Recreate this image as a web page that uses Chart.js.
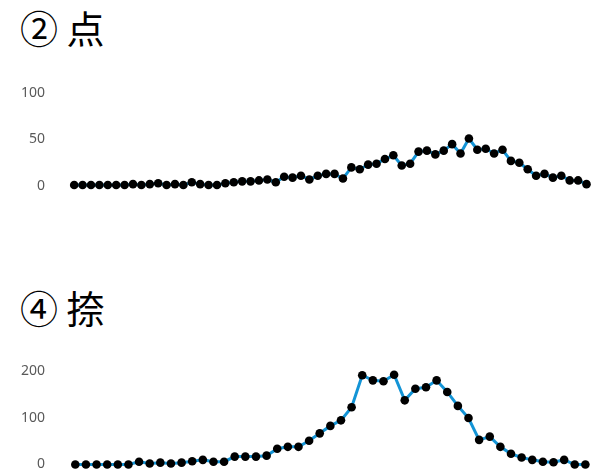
<!DOCTYPE html>
<html>
<head>
<meta charset="utf-8">
<script src="https://cdn.jsdelivr.net/npm/chart.js@4/dist/chart.umd.min.js"></script>
<style>
  body { margin: 0; background: #fff; width: 595px; height: 475px; position: relative; overflow: hidden; }
  .title { position: absolute; left: 20px; font-family: "Noto Sans CJK JP", sans-serif; font-size: 38px; color: #000; line-height: 1; white-space: pre; }
  canvas { position: absolute; left: 0; }
</style>
</head>
<body>
<div class="title" style="top: 8px;">② 点</div>
<canvas id="chart1" width="595" height="112" style="top: 84px;"></canvas>
<div class="title" style="top: 288px;">④ 捺</div>
<canvas id="chart2" width="595" height="112" style="top: 362px;"></canvas>
<script>
// ② 点
const tenValues = [1, 1, 1, 1, 1, 1, 1, 2, 1, 2, 3, 1, 2, 1, 4, 2, 1, 1, 3, 4,
  5, 5, 6, 7, 4, 10, 9, 11, 7, 11, 13, 13, 8, 20, 18, 23, 24, 29, 33, 22,
  24, 37, 38, 34, 38, 45, 35, 51, 39, 40, 35, 39, 27, 25, 18, 11, 13, 9, 11, 6,
  6, 2];
const tenLabels = tenValues.map((v, i) => String(i + 1));
const tenTicks = [0, 50, 100];

// ④ 捺
const haraiValues = [0, 0, 0, 0, 0, 0, 6, 2, 4, 2, 4, 7, 10, 6, 6, 17, 17, 17, 19, 34,
  38, 38, 51, 67, 83, 95, 123, 192, 181, 179, 193, 138, 163, 166, 181, 156, 126, 100, 53, 60,
  38, 23, 15, 10, 6, 5, 10, 0, 0];
const haraiLabels = haraiValues.map((v, i) => String(i + 1));
const haraiTicks = [0, 100, 200];

function buildChart(id, labels, values, ticks, padTop, padBottom) {
  const ctx = document.getElementById(id).getContext("2d");
  return new Chart(ctx, {
    type: "line",
    data: {
      labels: labels,
      datasets: [{
        data: values,
        borderColor: "#1394d6",
        borderWidth: 3,
        pointRadius: 4.3,
        pointBackgroundColor: "#000",
        pointBorderColor: "#000",
        pointBorderWidth: 0,
        tension: 0,
        clip: false
      }]
    },
    options: {
      responsive: false,
      animation: false,
      layout: { padding: { top: padTop, bottom: padBottom, left: 0, right: 4 } },
      plugins: { legend: { display: false }, tooltip: { enabled: false } },
      scales: {
        x: { display: false, offset: true },
        y: {
          min: ticks[0],
          max: ticks[ticks.length - 1],
          afterBuildTicks: (axis) => { axis.ticks = ticks.map(v => ({ value: v })); },
          afterFit: (axis) => {
            // fixed axis width; no extra vertical room for the labels
            axis.width = 70;
            axis.paddingTop = 0;
            axis.paddingBottom = 0;
          },
          grid: { display: false, drawTicks: false },
          border: { display: false },
          ticks: {
            padding: 25,
            color: "#595959",
            font: { family: "'Noto Sans', sans-serif", size: 14 }
          }
        }
      }
    }
  });
}

buildChart("chart1", tenLabels, tenValues, tenTicks, 9, 10);
buildChart("chart2", haraiLabels, haraiValues, haraiTicks, 9.5, 9.5);
</script>
</body>
</html>
